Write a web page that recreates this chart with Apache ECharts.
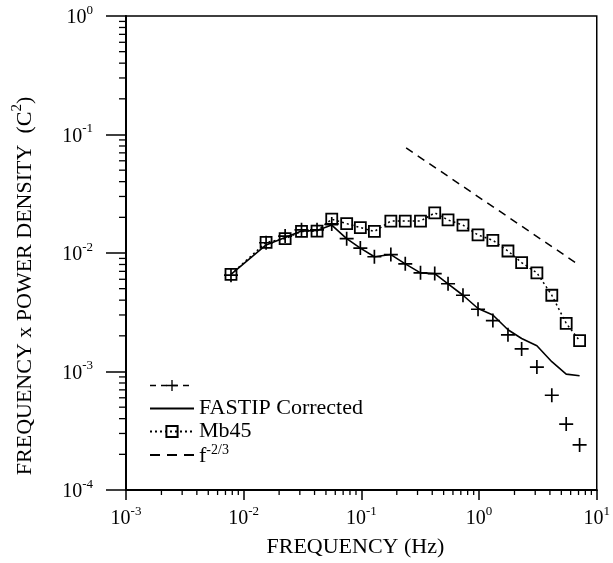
<!DOCTYPE html>
<html>
<head>
<meta charset="utf-8">
<script src="https://cdn.jsdelivr.net/npm/echarts@6/dist/echarts.min.js"></script>
<style>
html,body{margin:0;padding:0;background:#fff;}
#chart{width:613px;height:563px;}
</style>
</head>
<body>
<div id="chart"></div>
<script>
// ---- data ----
const freq = [0.0078, 0.0155, 0.0225, 0.031, 0.042, 0.056, 0.075, 0.098, 0.129, 0.178, 0.236, 0.318, 0.42, 0.545, 0.73, 0.98, 1.31, 1.76, 2.3, 3.1, 4.15, 5.5, 7.15];
const plusVals = [0.0065, 0.0122, 0.0139, 0.0157, 0.0157, 0.0176, 0.0132, 0.0110, 0.0093, 0.0097, 0.0081, 0.0068, 0.0067, 0.0055, 0.0044, 0.00335, 0.00269, 0.00204, 0.00155, 0.00109, 0.00063, 0.00036, 0.00024];
const fastipVals = [0.0066, 0.0117, 0.0135, 0.0153, 0.0155, 0.0172, 0.0132, 0.0110, 0.0093, 0.0097, 0.0081, 0.0068, 0.0067, 0.0055, 0.0044, 0.0034, 0.0030, 0.00225, 0.0019, 0.00165, 0.00121, 0.00095, 0.00092];
const mb45Vals = [0.0066, 0.0123, 0.0132, 0.0152, 0.0153, 0.0193, 0.0177, 0.0164, 0.0152, 0.0186, 0.0186, 0.0186, 0.0218, 0.0190, 0.0172, 0.0142, 0.0128, 0.0104, 0.0083, 0.0068, 0.0044, 0.00255, 0.00182];
const slopeFreq = [0.24, 7.1];
const slopeVals = [0.077, 0.0079];
const legendNames = [' ', 'FASTIP Corrected', 'Mb45', 'f'];
const xTickExps = [-3, -2, -1, 0, 1];
const yTickExps = [-4, -3, -2, -1, 0];
const minorMults = [2, 3, 4, 5, 6, 7, 8, 9];

const FONT = 'Liberation Serif';
const pairs = (xs, ys) => xs.map((x, i) => [x, ys[i]]);

const xMinor = [];
xTickExps.slice(0, -1).forEach(e => minorMults.forEach(m => xMinor.push([m * Math.pow(10, e), 1e-4])));
const yMinor = [];
yTickExps.slice(0, -1).forEach(e => minorMults.forEach(m => yMinor.push([1e-3, m * Math.pow(10, e)])));

const supRich = {
  b: {fontFamily: FONT, fontSize: 20, color: '#000', lineHeight: 24, verticalAlign: 'bottom'},
  s: {fontFamily: FONT, fontSize: 13, color: '#000', lineHeight: 14, verticalAlign: 'top'}
};
const expLabel = v => '{b|10}{s|' + Math.round(Math.log10(v)) + '}';

const plusPath = 'path://M4.4,0H5.6V4.4H10V5.6H5.6V10H4.4V5.6H0V4.4H4.4Z';

const chart = echarts.init(document.getElementById('chart'), null, {renderer: 'canvas'});
chart.setOption({
  animation: false,
  backgroundColor: '#fff',
  grid: {left: 126, right: 7, top: 16, bottom: 64, show: true, borderColor: '#000', borderWidth: 1.5, backgroundColor: 'transparent'},
  xAxis: {
    type: 'log', logBase: 10, min: 1e-3, max: 10,
    name: 'FREQUENCY (Hz)', nameLocation: 'middle', nameGap: 46,
    nameTextStyle: {fontFamily: FONT, fontSize: 22, color: '#000', padding: [0, 12, 0, 0]},
    axisLine: {show: true, lineStyle: {color: '#000', width: 2}},
    axisTick: {show: true, inside: false, length: 10, lineStyle: {color: '#000', width: 1.5}},
    minorTick: {show: false},
    splitLine: {show: false},
    axisLabel: {margin: 15, formatter: expLabel, rich: supRich, color: '#000'}
  },
  yAxis: {
    type: 'log', logBase: 10, min: 1e-4, max: 1,
    name: '{t|FREQUENCY x POWER DENSITY  (C}{u|2}{t|)}', nameLocation: 'middle', nameGap: 90, nameRotate: 90,
    nameTextStyle: {
      padding: [0, 66, 0, 0],
      rich: {
        t: {fontFamily: FONT, fontSize: 22, color: '#000', lineHeight: 26, verticalAlign: 'bottom'},
        u: {fontFamily: FONT, fontSize: 15, color: '#000', lineHeight: 16, verticalAlign: 'top'}
      }
    },
    axisLine: {show: true, lineStyle: {color: '#000', width: 2}},
    axisTick: {show: true, inside: false, length: 20, lineStyle: {color: '#000', width: 1.5}},
    minorTick: {show: false},
    splitLine: {show: false},
    axisLabel: {margin: 33, formatter: expLabel, rich: supRich, color: '#000'}
  },
  legend: {
    orient: 'vertical', left: 144, top: 369,
    itemWidth: 44, itemHeight: 14, itemGap: 0,
    selectedMode: false,
    textStyle: {
      fontFamily: FONT, fontSize: 22, color: '#000', lineHeight: 23,
      rich: {
        b: {fontFamily: FONT, fontSize: 22, color: '#000', lineHeight: 24, verticalAlign: 'bottom'},
        s: {fontFamily: FONT, fontSize: 14, color: '#000', lineHeight: 14, verticalAlign: 'top'}
      }
    },
    formatter: name => name === 'f' ? '{b|f}{s|-2/3}' : name,
    data: [
      {name: legendNames[0], lineStyle: {width: 1.5, type: [6, 5], opacity: 1, color: '#000'}},
      {name: legendNames[1], itemStyle: {opacity: 0}},
      {name: legendNames[2]},
      {name: legendNames[3], itemStyle: {opacity: 0}, lineStyle: {width: 2, type: [10, 7]}}
    ]
  },
  series: [
    {
      name: legendNames[1], type: 'line', data: pairs(freq, fastipVals),
      symbol: 'none', lineStyle: {color: '#000', width: 1.6}, itemStyle: {color: '#000'}, z: 3
    },
    {
      name: legendNames[0], type: 'line', data: pairs(freq, plusVals),
      symbol: plusPath, symbolSize: 14,
      lineStyle: {width: 0, opacity: 0, color: '#000'},
      itemStyle: {color: '#000'}, z: 4
    },
    {
      name: legendNames[2], type: 'line', data: pairs(freq, mb45Vals),
      symbol: 'rect', symbolSize: 11,
      lineStyle: {color: '#000', width: 1.5, type: [2, 3]},
      itemStyle: {color: 'rgba(255,255,255,0)', borderColor: '#000', borderWidth: 1.8}, z: 5
    },
    {
      name: legendNames[3], type: 'line', data: pairs(slopeFreq, slopeVals),
      symbol: 'none', lineStyle: {color: '#000', width: 1.5, type: [8, 6]}, itemStyle: {color: '#000'}, z: 3
    },
    {
      type: 'custom', data: xMinor, silent: true, z: 6,
      renderItem: (params, api) => {
        const p = api.coord([api.value(0), api.value(1)]);
        return {type: 'line', shape: {x1: p[0], y1: p[1], x2: p[0], y2: p[1] + 5}, style: {stroke: '#000', lineWidth: 1.3}};
      }
    },
    {
      type: 'custom', data: yMinor, silent: true, z: 6,
      renderItem: (params, api) => {
        const p = api.coord([api.value(0), api.value(1)]);
        return {type: 'line', shape: {x1: p[0] - 7, y1: p[1], x2: p[0], y2: p[1]}, style: {stroke: '#000', lineWidth: 1.3}};
      }
    }
  ]
});
</script>
</body>
</html>
